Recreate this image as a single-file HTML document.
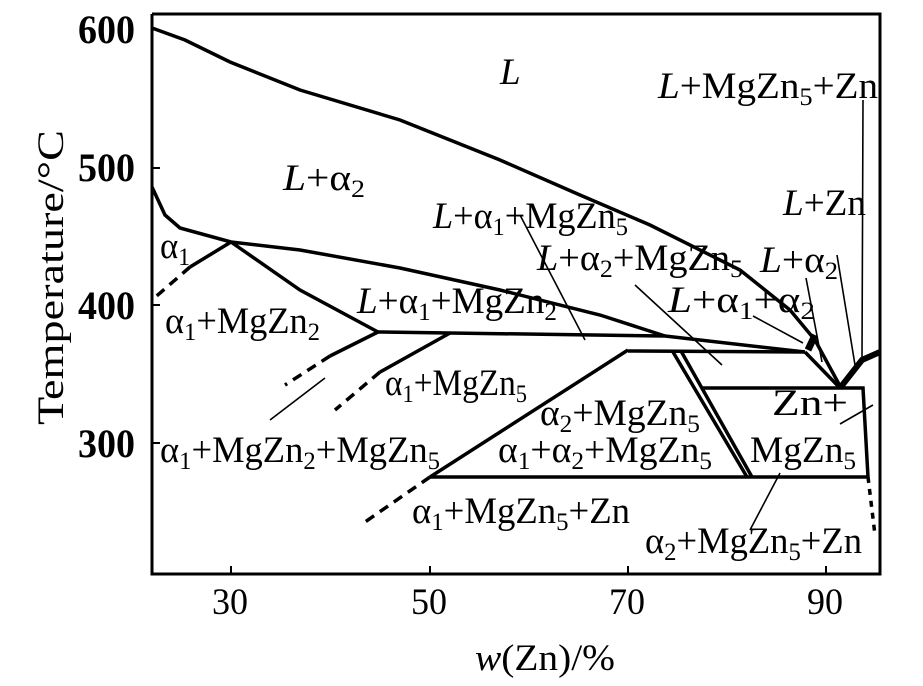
<!DOCTYPE html><html><head><style>
body{margin:0;background:#fff}
svg text{font-family:"Liberation Serif",serif;font-size:37px;fill:#000}
.t{font-size:40px;font-weight:bold}
svg tspan.s{font-size:25px}
</style></head><body>
<svg width="923" height="681" viewBox="0 0 923 681">
<g fill="none" stroke="#000" stroke-width="3.5">
<path d="M152,14V574H880V14H152" stroke-width="3"/>
<path d="M231,574v-8M430,574v-8M628,574v-8M826,574v-8M152,168h8M152,305h8M152,443h8" stroke-width="2"/>
<path d="M152,28L185,40L230,62L300,90L400,120L500,160L580,195L650,225L740,270L790,310L815,340L840,386"/>
<path d="M152,187L165,215L180,228L231,242L300,250L400,268L500,290L600,315L665,336"/>
<path d="M231,242L190,267"/><path d="M190,267L152,300" stroke-dasharray="10,7"/>
<path d="M231,242L300,290L378,332"/>
<path d="M378,332L330,356"/><path d="M330,356L285,385" stroke-dasharray="10,7"/>
<path d="M450,333L380,372"/><path d="M380,372L335,410" stroke-dasharray="10,7"/>
<path d="M628,350L430,477"/><path d="M430,477L365,522" stroke-dasharray="10,7"/>
<path d="M378,332L665,336L805,352"/>
<path d="M628,351L805,352"/>
<path d="M430,477H868"/>
<path d="M703,388H863L868,477"/>
<path d="M868,477L875,535" stroke-dasharray="6,6"/>
<path d="M673,352L747,477M681,351L752,477"/>
<path d="M805,352L840,388"/>
<path d="M840,388L862,360L880,352" stroke-width="6"/>
<path d="M808,350L815,335" stroke-width="7"/>
</g>
<g fill="none" stroke="#000" stroke-width="1.6">
<path d="M325,378L270,420M520,215L585,340M635,285L722,365M753,316L803,343M806,278L822,362M837,255L855,365M863,100L862,360M840,424L873,405M750,530L780,473"/>
</g>
<text class="t" x="78" y="43" textLength="57" lengthAdjust="spacingAndGlyphs">600</text>
<text class="t" x="78" y="181" textLength="57" lengthAdjust="spacingAndGlyphs">500</text>
<text class="t" x="78" y="319" textLength="57" lengthAdjust="spacingAndGlyphs">400</text>
<text class="t" x="78" y="457" textLength="57" lengthAdjust="spacingAndGlyphs">300</text>
<text x="212" y="614" textLength="36" lengthAdjust="spacingAndGlyphs">30</text><text x="411" y="614" textLength="36" lengthAdjust="spacingAndGlyphs">50</text><text x="609" y="614" textLength="36" lengthAdjust="spacingAndGlyphs">70</text><text x="807" y="614" textLength="36" lengthAdjust="spacingAndGlyphs">90</text>
<text x="475" y="670" textLength="140" lengthAdjust="spacingAndGlyphs"><tspan font-style="italic">w</tspan>(Zn)/%</text>
<text transform="translate(63,425) rotate(-90)" textLength="295" lengthAdjust="spacingAndGlyphs">Temperature/°C</text>
<text x="500" y="84" font-size="40" font-style="italic">L</text>
<text x="283" y="190" textLength="82" lengthAdjust="spacingAndGlyphs"><tspan font-style="italic">L</tspan>+α<tspan class="s" dy="7">2</tspan></text>
<text x="160" y="258" textLength="30" lengthAdjust="spacingAndGlyphs">α<tspan class="s" dy="7">1</tspan></text>
<text x="165" y="333" textLength="155" lengthAdjust="spacingAndGlyphs">α<tspan class="s" dy="7">1</tspan><tspan dy="-7">+MgZn</tspan><tspan class="s" dy="7">2</tspan></text>
<text x="357" y="313" textLength="200" lengthAdjust="spacingAndGlyphs"><tspan font-style="italic">L</tspan>+α<tspan class="s" dy="7">1</tspan><tspan dy="-7">+MgZn</tspan><tspan class="s" dy="7">2</tspan></text>
<text x="433" y="228" textLength="195" lengthAdjust="spacingAndGlyphs"><tspan font-style="italic">L</tspan>+α<tspan class="s" dy="7">1</tspan><tspan dy="-7">+MgZn</tspan><tspan class="s" dy="7">5</tspan></text>
<text x="537" y="270" textLength="206" lengthAdjust="spacingAndGlyphs"><tspan font-style="italic">L</tspan>+α<tspan class="s" dy="7">2</tspan><tspan dy="-7">+MgZn</tspan><tspan class="s" dy="7">5</tspan></text>
<text x="668" y="312" textLength="147" lengthAdjust="spacingAndGlyphs"><tspan font-style="italic">L</tspan>+α<tspan class="s" dy="7">1</tspan><tspan dy="-7">+α</tspan><tspan class="s" dy="7">2</tspan></text>
<text x="760" y="272" textLength="78" lengthAdjust="spacingAndGlyphs"><tspan font-style="italic">L</tspan>+α<tspan class="s" dy="7">2</tspan></text>
<text x="783" y="215" textLength="83" lengthAdjust="spacingAndGlyphs"><tspan font-style="italic">L</tspan>+Zn</text>
<text x="658" y="98" textLength="220" lengthAdjust="spacingAndGlyphs"><tspan font-style="italic">L</tspan>+MgZn<tspan class="s" dy="7">5</tspan><tspan dy="-7">+Zn</tspan></text>
<text x="385" y="395" textLength="142" lengthAdjust="spacingAndGlyphs">α<tspan class="s" dy="7">1</tspan><tspan dy="-7">+MgZn</tspan><tspan class="s" dy="7">5</tspan></text>
<text x="160" y="462" textLength="280" lengthAdjust="spacingAndGlyphs">α<tspan class="s" dy="7">1</tspan><tspan dy="-7">+MgZn</tspan><tspan class="s" dy="7">2</tspan><tspan dy="-7">+MgZn</tspan><tspan class="s" dy="7">5</tspan></text>
<text x="540" y="425" textLength="160" lengthAdjust="spacingAndGlyphs">α<tspan class="s" dy="7">2</tspan><tspan dy="-7">+MgZn</tspan><tspan class="s" dy="7">5</tspan></text>
<text x="498" y="462" textLength="214" lengthAdjust="spacingAndGlyphs">α<tspan class="s" dy="7">1</tspan><tspan dy="-7">+α</tspan><tspan class="s" dy="7">2</tspan><tspan dy="-7">+MgZn</tspan><tspan class="s" dy="7">5</tspan></text>
<text x="412" y="523" textLength="218" lengthAdjust="spacingAndGlyphs">α<tspan class="s" dy="7">1</tspan><tspan dy="-7">+MgZn</tspan><tspan class="s" dy="7">5</tspan><tspan dy="-7">+Zn</tspan></text>
<text x="772" y="415" textLength="76" lengthAdjust="spacingAndGlyphs">Zn+</text>
<text x="750" y="462" textLength="106" lengthAdjust="spacingAndGlyphs">MgZn<tspan class="s" dy="7">5</tspan></text>
<text x="645" y="553" textLength="217" lengthAdjust="spacingAndGlyphs">α<tspan class="s" dy="7">2</tspan><tspan dy="-7">+MgZn</tspan><tspan class="s" dy="7">5</tspan><tspan dy="-7">+Zn</tspan></text>
</svg></body></html>
